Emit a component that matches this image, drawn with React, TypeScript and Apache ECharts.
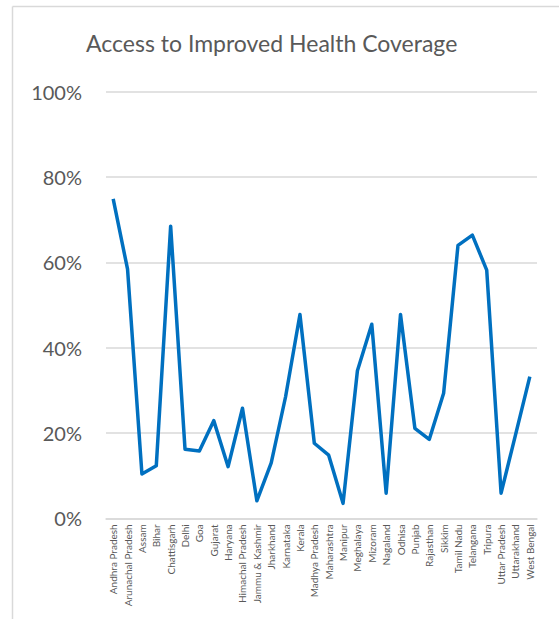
import React, { useEffect, useRef } from "react";
import * as echarts from "echarts";

const states: string[] = [
  "Andhra Pradesh", "Arunachal Pradesh", "Assam", "Bihar", "Chattisgarh",
  "Delhi", "Goa", "Gujarat", "Haryana", "Himachal Pradesh",
  "Jammu & Kashmir", "Jharkhand", "Karnataka", "Kerala", "Madhya Pradesh",
  "Maharashtra", "Manipur", "Meghalaya", "Mizoram", "Nagaland",
  "Odhisa", "Punjab", "Rajasthan", "Sikkim", "Tamil Nadu",
  "Telangana", "Tripura", "Uttar Pradesh", "Uttarakhand", "West Bengal",
];

// Share of households with access to improved health coverage (fraction)
const coverage: number[] = [
  0.749, 0.584, 0.104, 0.123, 0.685,
  0.162, 0.158, 0.229, 0.121, 0.258,
  0.041, 0.130, 0.285, 0.478, 0.176,
  0.148, 0.035, 0.346, 0.455, 0.059,
  0.478, 0.211, 0.185, 0.293, 0.640,
  0.664, 0.582, 0.059, 0.195, 0.332,
];

const yTicks: number[] = [0, 0.2, 0.4, 0.6, 0.8, 1];

const TEXT = "#595959";
const GRID = "#d9d9d9";
const FONT = "Lato, 'Open Sans', sans-serif";

export default function App() {
  const ref = useRef<HTMLDivElement>(null);

  useEffect(() => {
    if (!ref.current) return;
    const chart = echarts.init(ref.current, undefined, { renderer: "svg" });
    chart.setOption({
      animation: false,
      backgroundColor: "#ffffff",
      textStyle: { fontFamily: FONT },
      title: {
        text: "Access to Improved Health Coverage",
        left: 81,
        top: 26,
        textStyle: {
          color: TEXT,
          fontSize: 23,
          fontWeight: "normal",
          fontFamily: FONT,
        },
      },
      graphic: [
        {
          type: "line",
          shape: { x1: 12.5, y1: 6.5, x2: 559, y2: 6.5 },
          style: { stroke: GRID, lineWidth: 1.5 },
        },
        {
          type: "line",
          shape: { x1: 12.5, y1: 6.5, x2: 12.5, y2: 619 },
          style: { stroke: GRID, lineWidth: 1.5 },
        },
      ],
      grid: { left: 106, right: 22, top: 91.8, bottom: 100.7 },
      xAxis: {
        type: "category",
        data: states,
        boundaryGap: true,
        axisLine: { show: true, lineStyle: { color: GRID, width: 1.5 } },
        axisTick: { show: false },
        axisLabel: {
          rotate: 90,
          interval: 0,
          margin: 6,
          color: TEXT,
          fontSize: 10,
          fontFamily: FONT,
        },
      },
      yAxis: {
        type: "value",
        min: yTicks[0],
        max: yTicks[yTicks.length - 1],
        interval: 0.2,
        axisLine: { show: false },
        axisTick: { show: false },
        splitLine: { show: true, lineStyle: { color: GRID, width: 1.5 } },
        axisLabel: {
          margin: 24,
          color: TEXT,
          fontSize: 20,
          fontFamily: FONT,
          formatter: (v: number) => `${Math.round(v * 100)}%`,
        },
      },
      series: [
        {
          type: "line",
          data: coverage,
          symbol: "none",
          lineStyle: { color: "#0070C0", width: 3.5, join: "round" },
          itemStyle: { color: "#0070C0" },
        },
      ],
    });
    return () => chart.dispose();
  }, []);

  return (
    <div
      ref={ref}
      style={{ position: "fixed", left: 0, top: 0, width: 559, height: 619 }}
    />
  );
}
